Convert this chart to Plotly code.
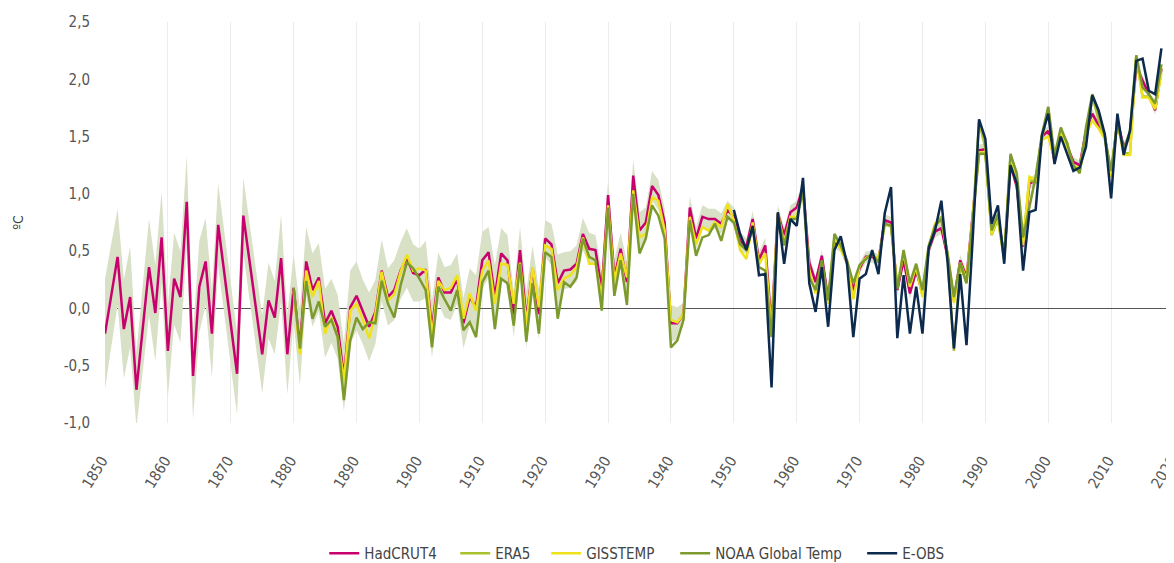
import plotly.graph_objects as go

# ---------------- data (anomalies, ºC) ----------------
years_hadcrut = list(range(1850, 2019))
hadcrut4 = [
    -0.22, 0.12, 0.45, -0.18, 0.10, -0.71, -0.17, 0.36, -0.04, 0.62,
    -0.37, 0.26, 0.10, 0.93, -0.59, 0.19, 0.41, -0.22, 0.73, 0.30,
    -0.14, -0.57, 0.81, 0.42, 0.00, -0.40, 0.07, -0.08, 0.44, -0.40,
    0.18, -0.34, 0.41, 0.16, 0.27, -0.13, -0.02, -0.16, -0.60, 0.01,
    0.11, -0.03, -0.16, -0.03, 0.33, 0.10, 0.16, 0.33, 0.44, 0.31,
    0.29, 0.34, -0.18, 0.27, 0.14, 0.14, 0.26, -0.13, 0.10, 0.01,
    0.42, 0.49, 0.10, 0.48, 0.42, -0.05, 0.51, -0.10, 0.35, -0.05,
    0.61, 0.56, 0.22, 0.33, 0.34, 0.39, 0.65, 0.52, 0.51, 0.16,
    0.99, 0.27, 0.52, 0.23, 1.16, 0.68, 0.75, 1.07, 0.99, 0.75,
    -0.13, -0.13, -0.05, 0.88, 0.61, 0.80, 0.78, 0.78, 0.74, 0.86,
    0.80, 0.59, 0.54, 0.78, 0.42, 0.55, -0.15, 0.83, 0.64, 0.84,
    0.88, 1.06, 0.40, 0.23, 0.46, 0.08, 0.58, 0.54, 0.40, 0.16,
    0.35, 0.45, 0.45, 0.42, 0.77, 0.75, 0.16, 0.42, 0.13, 0.33,
    0.13, 0.51, 0.67, 0.70, 0.45, 0.07, 0.42, 0.27, 0.82, 1.38,
    1.39, 0.68, 0.80, 0.45, 1.26, 1.06, 0.54, 1.09, 1.12, 1.50,
    1.55, 1.29, 1.55, 1.41, 1.28, 1.25, 1.55, 1.70, 1.60, 1.50,
    1.15, 1.64, 1.41, 1.50, 2.11, 1.99, 1.87, 1.73, 2.09,
]
# HadCRUT4 uncertainty half-width (shaded band)
hadcrut4_unc = [
    0.48, 0.44, 0.42, 0.43, 0.44, 0.33, 0.40, 0.42, 0.42, 0.40,
    0.40, 0.40, 0.40, 0.40, 0.38, 0.40, 0.38, 0.38, 0.36, 0.36,
    0.36, 0.36, 0.33, 0.34, 0.34, 0.34, 0.33, 0.32, 0.38, 0.35,
    0.30, 0.33, 0.30, 0.32, 0.30, 0.30, 0.28, 0.28, 0.30, 0.32,
    0.30, 0.28, 0.30, 0.28, 0.27, 0.25, 0.26, 0.25, 0.26, 0.25,
    0.23, 0.25, 0.25, 0.22, 0.22, 0.24, 0.22, 0.22, 0.25, 0.28,
    0.25, 0.22, 0.28, 0.22, 0.22, 0.20, 0.20, 0.25, 0.20, 0.22,
    0.16, 0.18, 0.25, 0.16, 0.16, 0.16, 0.14, 0.14, 0.13, 0.16,
    0.13, 0.16, 0.14, 0.18, 0.14, 0.16, 0.13, 0.13, 0.13, 0.12,
    0.16, 0.14, 0.10, 0.10, 0.10, 0.10, 0.09, 0.09, 0.09, 0.08,
    0.08, 0.08, 0.07, 0.07, 0.07, 0.07, 0.07, 0.07, 0.06, 0.06,
    0.06, 0.06, 0.06, 0.05, 0.05, 0.05, 0.05, 0.05, 0.05, 0.05,
    0.05, 0.05, 0.05, 0.05, 0.05, 0.05, 0.05, 0.05, 0.05, 0.05,
    0.05, 0.05, 0.05, 0.05, 0.05, 0.05, 0.05, 0.05, 0.05, 0.05,
    0.05, 0.05, 0.05, 0.05, 0.05, 0.05, 0.05, 0.05, 0.05, 0.05,
    0.04, 0.04, 0.04, 0.04, 0.04, 0.04, 0.04, 0.04, 0.04, 0.04,
    0.04, 0.04, 0.04, 0.04, 0.04, 0.04, 0.04, 0.04, 0.04,
]

years_giss = list(range(1880, 2019))
gisstemp = [
    0.15, -0.40, 0.33, 0.10, 0.24, -0.22, -0.08, -0.25, -0.63, -0.02,
    0.04, -0.10, -0.26, -0.05, 0.32, 0.07, 0.12, 0.32, 0.47, 0.33,
    0.35, 0.33, -0.24, 0.24, 0.16, 0.18, 0.29, -0.09, 0.13, -0.02,
    0.33, 0.42, 0.04, 0.39, 0.38, 0.04, 0.40, -0.14, 0.36, 0.01,
    0.55, 0.52, 0.16, 0.26, 0.29, 0.36, 0.62, 0.39, 0.39, 0.10,
    0.90, 0.24, 0.48, 0.27, 1.03, 0.62, 0.65, 0.97, 0.94, 0.68,
    -0.10, -0.12, -0.05, 0.80, 0.56, 0.71, 0.68, 0.75, 0.71, 0.91,
    0.77, 0.51, 0.43, 0.75, 0.39, 0.48, -0.20, 0.83, 0.57, 0.80,
    0.80, 1.04, 0.33, 0.13, 0.39, 0.04, 0.62, 0.51, 0.41, 0.08,
    0.37, 0.44, 0.47, 0.43, 0.73, 0.72, 0.19, 0.49, 0.19, 0.37,
    0.10, 0.53, 0.74, 0.77, 0.47, 0.05, 0.40, 0.25, 0.80, 1.36,
    1.36, 0.65, 0.80, 0.43, 1.30, 1.10, 0.55, 1.15, 1.12, 1.47,
    1.50, 1.30, 1.53, 1.40, 1.24, 1.23, 1.52, 1.64, 1.57, 1.48,
    1.15, 1.62, 1.34, 1.34, 2.21, 1.84, 1.84, 1.74, 2.05,
]

years_noaa = list(range(1880, 2019))
noaa = [
    0.18, -0.35, 0.24, -0.09, 0.06, -0.16, -0.10, -0.25, -0.80, -0.28,
    -0.08, -0.18, -0.12, -0.13, 0.24, 0.04, -0.08, 0.20, 0.40, 0.35,
    0.26, 0.16, -0.34, 0.19, 0.08, -0.02, 0.16, -0.19, -0.12, -0.25,
    0.23, 0.33, -0.18, 0.26, 0.22, -0.15, 0.39, -0.29, 0.22, -0.22,
    0.49, 0.45, -0.09, 0.23, 0.19, 0.27, 0.61, 0.45, 0.42, -0.02,
    0.88, 0.11, 0.42, 0.03, 1.00, 0.48, 0.61, 0.90, 0.81, 0.61,
    -0.34, -0.28, -0.10, 0.77, 0.46, 0.62, 0.64, 0.74, 0.59, 0.80,
    0.75, 0.56, 0.51, 0.70, 0.36, 0.33, -0.25, 0.82, 0.55, 0.78,
    0.78, 1.03, 0.27, 0.16, 0.42, 0.07, 0.65, 0.55, 0.42, 0.22,
    0.38, 0.43, 0.48, 0.40, 0.74, 0.72, 0.17, 0.51, 0.22, 0.39,
    0.16, 0.55, 0.72, 0.78, 0.48, 0.10, 0.40, 0.22, 0.80, 1.35,
    1.35, 0.68, 0.82, 0.45, 1.35, 1.18, 0.62, 0.90, 1.15, 1.52,
    1.76, 1.33, 1.58, 1.44, 1.25, 1.18, 1.58, 1.87, 1.72, 1.50,
    1.20, 1.62, 1.38, 1.55, 2.21, 1.93, 1.87, 1.79, 2.13,
]

years_era5 = list(range(1979, 2019))
era5 = [
    0.35,
    0.12, 0.52, 0.72, 0.80, 0.46, -0.37, 0.38, 0.22, 0.78, 1.63,
    1.40, 0.64, 0.78, 0.42, 1.33, 1.12, 0.58, 1.12, 1.10, 1.48,
    1.75, 1.30, 1.55, 1.45, 1.22, 1.20, 1.45, 1.85, 1.65, 1.48,
    1.18, 1.65, 1.36, 1.35, 2.20, 1.85, 1.85, 1.75, 2.10,
]

years_eobs = list(range(1950, 2019))
eobs = [
    0.86, 0.65, 0.51, 0.72, 0.29, 0.30, -0.69, 0.84, 0.39, 0.78,
    0.72, 1.14, 0.22, -0.03, 0.36, -0.16, 0.51, 0.63, 0.39, -0.25,
    0.26, 0.30, 0.51, 0.30, 0.83, 1.06, -0.26, 0.29, -0.22, 0.19,
    -0.22, 0.53, 0.68, 0.94, 0.40, -0.35, 0.30, -0.32, 0.62, 1.65,
    1.48, 0.74, 0.90, 0.39, 1.25, 1.09, 0.33, 0.84, 0.86, 1.51,
    1.70, 1.26, 1.50, 1.35, 1.20, 1.23, 1.41, 1.86, 1.73, 1.52,
    0.96, 1.70, 1.34, 1.55, 2.16, 2.18, 1.90, 1.87, 2.27,
]

x_ticks = list(range(1850, 2021, 10))
y_ticks = [-1.0, -0.5, 0.0, 0.5, 1.0, 1.5, 2.0, 2.5]

# ---------------- figure ----------------
FONT = "DejaVu Sans Condensed, DejaVu Sans, sans-serif"
band_hi = [v + u for v, u in zip(hadcrut4, hadcrut4_unc)]
band_lo = [v - u for v, u in zip(hadcrut4, hadcrut4_unc)]

fig = go.Figure()
fig.add_trace(go.Scatter(x=years_hadcrut, y=band_hi, mode="lines",
                         line=dict(width=0, color="rgba(0,0,0,0)"),
                         showlegend=False, hoverinfo="skip"))
fig.add_trace(go.Scatter(x=years_hadcrut, y=band_lo, mode="lines",
                         line=dict(width=0, color="rgba(0,0,0,0)"),
                         fill="tonexty", fillcolor="#d8e0c6",
                         showlegend=False, hoverinfo="skip"))

series = [
    ("HadCRUT4", years_hadcrut, hadcrut4, "#c8006e"),
    ("ERA5", years_era5, era5, "#a9c12f"),
    ("GISSTEMP", years_giss, gisstemp, "#efe21c"),
    ("NOAA Global Temp", years_noaa, noaa, "#7c9b2c"),
    ("E-OBS", years_eobs, eobs, "#0c2a4d"),
]
legend_ids = ["legend", "legend2", "legend3", "legend4", "legend5"]
legend_x = [0.2051, 0.3276, 0.4127, 0.5334, 0.7083]

for (name, xs, ys, col), lid in zip(series, legend_ids):
    fig.add_trace(go.Scatter(x=xs, y=ys, mode="lines", name=name,
                             legend=lid, line=dict(color=col, width=2.5)))

fig.add_annotation(text="ºC", xref="paper", yref="paper",
                   x=-0.082, y=0.50, xanchor="center", yanchor="middle",
                   showarrow=False, textangle=-90,
                   font=dict(family=FONT, size=14, color="#444"))

legend_style = dict(orientation="h", xanchor="left", y=-0.3255,
                    yanchor="middle", traceorder="normal",
                    font=dict(family=FONT, size=15, color="#444"),
                    bgcolor="rgba(0,0,0,0)", borderwidth=0)
legends = {lid: dict(x=lx, **legend_style)
           for lid, lx in zip(legend_ids, legend_x)}

# page body has an 8px default margin -> compensate so the plot area
# lands at the same place as in the reference
fig.update_layout(
    width=1166, height=555,
    margin=dict(l=97, r=0, t=14, b=140, pad=0, autoexpand=False),
    paper_bgcolor="white", plot_bgcolor="white",
    font=dict(family=FONT, size=14, color="#555"),
    showlegend=True,
    xaxis=dict(range=[1850, 2020], tickmode="array", tickvals=x_ticks,
               ticktext=[str(t) for t in x_ticks], tickangle=-58,
               showgrid=True, gridcolor="#ececec", gridwidth=1,
               zeroline=False, showline=False, ticks="",
               automargin=False, ticklabelstandoff=25, ticklabelshift=-3,
               ticklabeloverflow="allow",
               tickfont=dict(family=FONT, size=15, color="#555")),
    yaxis=dict(range=[-1.0, 2.5], tickmode="array", tickvals=y_ticks,
               ticktext=[f"{v:.1f}".replace(".", ",") for v in y_ticks],
               showgrid=False, zeroline=True, zerolinecolor="#555",
               zerolinewidth=1, showline=False, ticks="",
               automargin=False, ticklabelstandoff=14,
               tickfont=dict(family=FONT, size=15, color="#555")),
    **legends,
)

fig.write_html("out.html")
